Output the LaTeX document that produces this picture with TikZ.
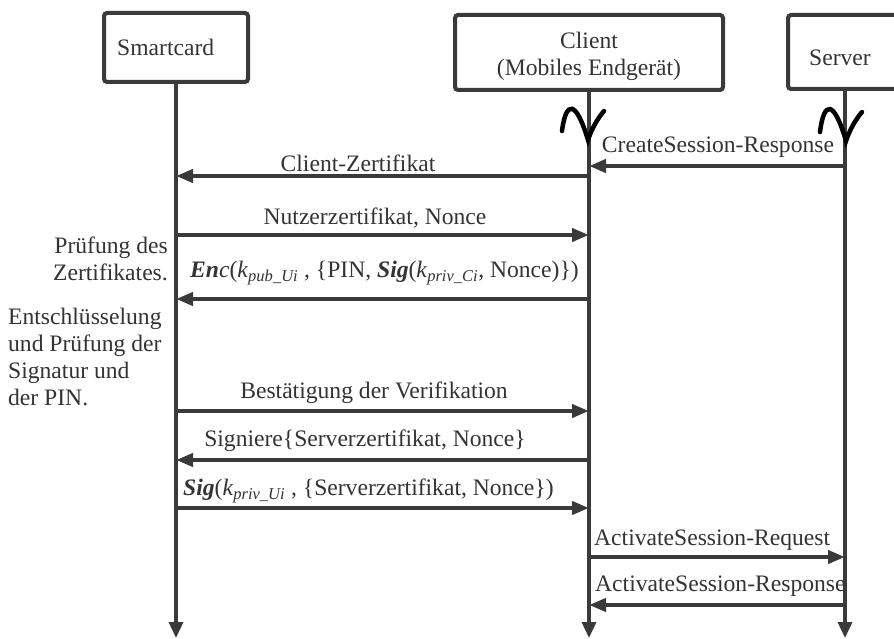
\documentclass[tikz,border=0pt]{standalone}
\usepackage{fontspec}
\setmainfont{Liberation Serif}
\usetikzlibrary{arrows.meta}
\definecolor{ln}{RGB}{58,58,58}
\definecolor{tx}{RGB}{51,51,51}
\begin{document}
\begin{tikzpicture}[x=1pt,y=-1pt,
 every node/.style={font=\fontsize{23.6}{27}\selectfont, text=tx, inner sep=0pt},
 box/.style={draw=ln, line width=4pt, rounded corners=3pt},
 life/.style={draw=ln, line width=3.5pt, -{Triangle[length=16pt,width=14pt]}},
 msg/.style={draw=ln, line width=4pt, -{Triangle[length=17pt,width=13pt]}},
 squig/.style={draw=black, line width=4.5pt, line cap=round}]
\useasboundingbox (0,0) rectangle (894,639);
% boxes
\node[box, minimum width=144, minimum height=69] (sc) at (176,47.5) {};
\node[anchor=west] (sct) at (117,47) {Smartcard};
\node[box, minimum width=268, minimum height=75] (cl) at (589,52.5) {};
\node[align=center] (clt) at (589,56) {Client\\(Mobiles Endgerät)};
\node[box, minimum width=114, minimum height=74] (sv) at (845,52) {};
\node (svt) at (840,58) {Server};
% lifelines
\coordinate (E) at (0,638);
\draw[life] (sc.south) -- (sc.south |- E);
\draw[life] (cl.south) -- (cl.south |- E);
\draw[life] (sv.south) -- (sv.south |- E);
% squiggles
\draw[squig] (562,131) .. controls (566,100) and (576,100) .. (588,140) .. controls (592,128) and (598,118) .. (604,111);
\draw[squig] (820,132) .. controls (824,100) and (834,100) .. (846,141) .. controls (850,129) and (856,119) .. (862,112);
% messages
\draw[msg] (sv.center |- 0,166) -- (cl.center |- 0,166);
\node (l1) at (718,147) {CreateSession-Response};
\draw[msg] (cl.center |- 0,176) -- (sc.center |- 0,176);
\node (l2) at (358,163) {Client-Zertifikat};
\draw[msg] (sc.center |- 0,235) -- (cl.center |- 0,235);
\node (l3) at (375,218) {Nutzerzertifikat, Nonce};
\draw[msg] (cl.center |- 0,299) -- (sc.center |- 0,299);
\node[anchor=west] (l4) at (190,273) {\textbf{\textit{En}}\textit{c}(\textit{k}\textsubscript{\textit{pub\_Ui}} , \{PIN, \textbf{\textit{Sig}}(\textit{k}\textsubscript{\textit{priv\_Ci}}, Nonce)\})};
\node[anchor=east, align=right] (p1) at (168,259) {Prüfung des\\Zertifikates.};
\node[anchor=west, align=left] (p2) at (8,357) {Entschlüsselung\\und Prüfung der\\Signatur und\\der PIN.};
\draw[msg] (sc.center |- 0,411) -- (cl.center |- 0,411);
\node (l5) at (374,393) {Bestätigung der Verifikation};
\draw[msg] (cl.center |- 0,460) -- (sc.center |- 0,460);
\node (l6) at (365,441) {Signiere\{Serverzertifikat, Nonce\}};
\draw[msg] (sc.center |- 0,508) -- (cl.center |- 0,508);
\node[anchor=west] (l7) at (183,491) {\textbf{\textit{Sig}}(\textit{k}\textsubscript{\textit{priv\_Ui}} , \{Serverzertifikat, Nonce\})};
\draw[msg] (cl.center |- 0,557) -- (sv.center |- 0,557);
\node[anchor=west] (l8) at (594,540) {ActivateSession-Request};
\draw[msg] (sv.center |- 0,605) -- (cl.center |- 0,605);
\node[anchor=west] (l9) at (595,586) {ActivateSession-Response};
\end{tikzpicture}
\end{document}
